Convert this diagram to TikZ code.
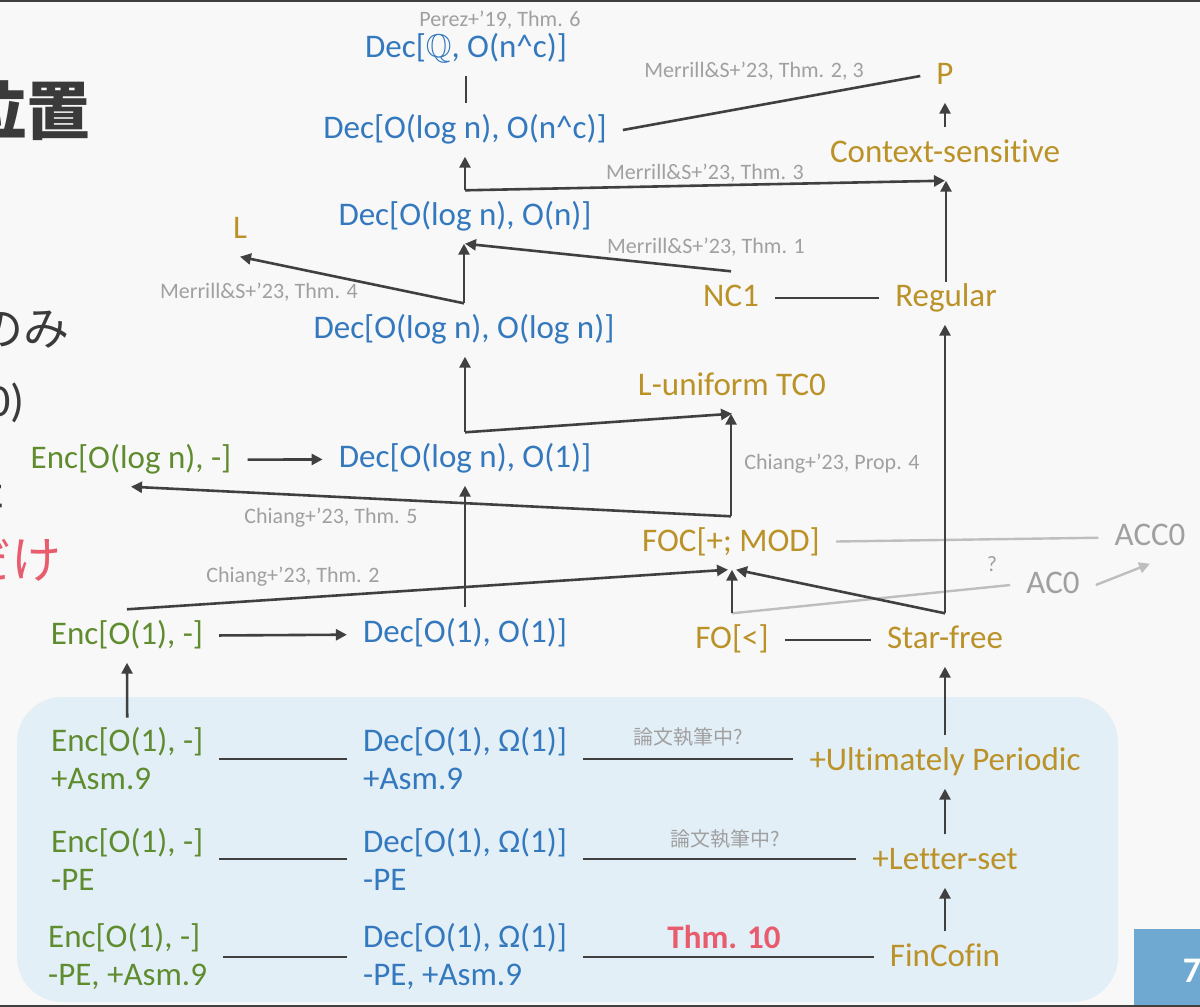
\documentclass[tikz,border=0pt]{standalone}
\usepackage{fontspec}
\setmainfont{Carlito}[Ligatures=NoCommon]
\newfontfamily\jp{Noto Sans CJK JP}
\usepackage{amssymb}
\usetikzlibrary{arrows.meta,calc}
\definecolor{bg}{RGB}{248,248,248}
\definecolor{boxblue}{RGB}{226,239,247}
\definecolor{numblue}{RGB}{111,169,210}
\definecolor{decblue}{RGB}{52,120,190}
\definecolor{encgreen}{RGB}{96,140,48}
\definecolor{gold}{RGB}{186,146,40}
\definecolor{labelgray}{RGB}{160,160,160}
\definecolor{darkc}{RGB}{64,64,64}
\definecolor{lightc}{RGB}{190,190,190}
\definecolor{redc}{RGB}{232,92,110}
\definecolor{titlec}{RGB}{58,58,58}
\begin{document}
\begin{tikzpicture}[x=1pt,y=-1pt,
  main/.style={inner xsep=16pt, inner ysep=10pt, text height=24.75pt, text depth=8.25pt, font=\fontsize{33}{40}\selectfont},
  dec/.style={main, text=decblue},
  enc/.style={main, text=encgreen},
  cls/.style={main, text=gold},
  lbl/.style={font=\fontsize{22}{26}\selectfont, text=labelgray, inner sep=0pt},
  two/.style={inner xsep=16pt, inner ysep=10pt, align=left, anchor=west, font=\fontsize{33}{38}\selectfont},
  arr/.style={draw=darkc, line width=2.6pt, -{Triangle[length=11pt,width=11pt]}},
  ln/.style={draw=darkc, line width=2.6pt},
  garr/.style={draw=lightc, line width=2.4pt, -{Triangle[length=11pt,width=11pt]}},
  gln/.style={draw=lightc, line width=2.4pt},
  frag/.style={anchor=east, inner sep=0pt}
]
\fill[bg] (0,0) rectangle (1200,1007);
\useasboundingbox (0,0) rectangle (1200,1007);
\clip (0,0) rectangle (1200,1007);
\draw[darkc, line width=1.5pt] (0,0.75) -- (1200,0.75);
\fill[boxblue, rounded corners=45pt] (17,697) rectangle (1118,1002);
\fill[numblue] (1134,929) rectangle (1200,1005);
\draw[darkc, line width=2pt] (0,1006) -- (1200,1006);
\node[font=\bfseries\fontsize{36}{40}\selectfont, text=white] (num) at (1192,971) {7};

% left fragments
\node[frag, font={\jp\bfseries\fontsize{64}{70}\selectfont}, text=titlec] (title) at (91,110) {位置};
\node[frag, font={\jp\fontsize{46}{50}\selectfont}, text=titlec] (nomi) at (70,330) {のみ};
\node[frag, font={\fontsize{46}{50}\selectfont}, text=titlec] (tc) at (25,403) {C0)};
\node[frag, font={\jp\fontsize{46}{50}\selectfont}, text=titlec] (ta) at (7,490) {た};
\node[frag, font={\jp\fontsize{50}{54}\selectfont}, text=redc] (dake) at (62,560) {だけ};

% nodes
\node[dec] (decQ) at (466,49) {Dec[$\mathbb{Q}$, O(n\textasciicircum c)]};
\node[lbl] (perez) at (500,20) {Perez+’19, Thm. 6};
\node[dec] (decnc) at (465,130) {Dec[O(log n), O(n\textasciicircum c)]};
\node[cls] (P) at (945,76) {P};
\node[cls] (cs) at (945,154) {Context-sensitive};
\node[dec] (decn) at (465,217) {Dec[O(log n), O(n)]};
\node[cls] (L) at (240,230) {L};
\node[cls] (nc1) at (731,298) {NC1};
\node[cls] (reg) at (946,298) {Regular};
\node[dec] (declog) at (464,330) {Dec[O(log n), O(log n)]};
\node[cls] (ltc) at (732,387) {L-uniform TC0};
\node[enc] (enclog) at (131,460) {Enc[O(log n), -]};
\node[dec] (decl1) at (465,459) {Dec[O(log n), O(1)]};
\node[cls] (foc) at (731,543) {FOC[+; MOD]};
\node[main, text=labelgray] (acc) at (1150,537) {ACC0};
\node[main, text=labelgray] (ac) at (1053,585) {AC0};
\node[enc] (enc1) at (127,636) {Enc[O(1), -]};
\node[dec] (dec11) at (465,634) {Dec[O(1), O(1)]};
\node[cls] (fo) at (732,640) {FO[<]};
\node[cls] (sf) at (945,640) {Star-free};

\node[two, text=encgreen] (e1) at (35,759) {Enc[O(1), -]\\+Asm.9};
\node[two, text=decblue] (d1) at (347,759) {Dec[O(1), Ω(1)]\\+Asm.9};
\node[cls] (up) at (945,762) {+Ultimately Periodic};
\node[two, text=encgreen] (e2) at (35,859) {Enc[O(1), -]\\-PE};
\node[two, text=decblue] (d2) at (347,859) {Dec[O(1), Ω(1)]\\-PE};
\node[cls] (ls) at (945,861) {+Letter-set};
\node[two, text=encgreen] (e3) at (32,957) {Enc[O(1), -]\\-PE, +Asm.9};
\node[two, text=decblue] (d3) at (347,957) {Dec[O(1), Ω(1)]\\-PE, +Asm.9};
\node[cls] (fc) at (945,958) {FinCofin};

% labels
\node[lbl] (m23) at (754,71) {Merrill\&S+’23, Thm. 2, 3};
\node[lbl] (m3) at (705,173) {Merrill\&S+’23, Thm. 3};
\node[lbl] (m1) at (706,247) {Merrill\&S+’23, Thm. 1};
\node[lbl] (m4) at (259,292) {Merrill\&S+’23, Thm. 4};
\node[lbl] (p4) at (832,464) {Chiang+’23, Prop. 4};
\node[lbl] (t5) at (331,518) {Chiang+’23, Thm. 5};
\node[lbl] (t2) at (293,577) {Chiang+’23, Thm. 2};
\node[lbl] (qm) at (992,564) {?};
\node[lbl, font={\jp\fontsize{20}{24}\selectfont}] (w1) at (688,737) {論文執筆中?};
\node[lbl, font={\jp\fontsize{20}{24}\selectfont}] (w2) at (725,839) {論文執筆中?};
\node[inner sep=0pt, font=\bfseries\fontsize{33}{38}\selectfont, text=redc] (t10) at (724,937) {Thm. 10};

% gray connectors
\draw[gln] (foc) -- (acc);
\draw[gln] (fo.north) -- (ac.west);
\draw[garr] (ac.east) -- (acc.south);

% dark connectors
\draw[ln] (decQ.south) -- (decQ.south |- decnc.north);
\draw[ln] (decnc.east) -- (P.west);
\draw[arr] (cs.north) -- (P.south);
\draw[arr] (decn.north) -- (decn.north |- decnc.south);
\draw[arr] (decn.north) -- (cs.south);
\draw[arr] ([yshift=-11pt]reg.north) -- (reg.north |- cs.south);
\draw[arr] (declog.north) -- (declog.north |- decn.south);
\draw[arr] (declog.north) -- (L.south);
\draw[arr] (nc1.north) -- (decn.south);
\draw[ln] (nc1) -- (reg);
\draw[arr] (sf.north) -- (sf.north |- reg.south);
\draw[arr] (decl1.north) -- (decl1.north |- declog.south);
\draw[arr] (decl1.north) -- (ltc.south);
\draw[arr] (foc.north) -- (foc.north |- ltc.south);
\draw[arr] (foc.north) -- (enclog.south);
\draw[arr] (enclog) -- (decl1);
\draw[arr] (dec11.north) -- (dec11.north |- decl1.south);
\draw[arr] (enc1.north) -- ([xshift=-3pt]foc.south);
\draw[arr] (fo.north) -- (fo.north |- foc.south);
\draw[arr] (sf.north) -- ([xshift=5pt]foc.south);
\draw[arr] (enc1) -- (dec11);
\draw[ln] (fo) -- (sf);
\draw[arr] (up.north) -- (sf.south);
\draw[arr] (ls.north) -- (up.south);
\draw[arr] (fc.north) -- (ls.south);
\draw[arr] (e1.north) -- (enc1.south);
\draw[ln] (e1.east) -- (d1.west);
\draw[ln] (e2.east) -- (d2.west);
\draw[ln] (e3.east) -- (d3.west);
\draw[ln] (d1.east) -- (d1.east -| up.west);
\draw[ln] (d2.east) -- (d2.east -| ls.west);
\draw[ln] (d3.east) -- (d3.east -| fc.west);
\end{tikzpicture}
\end{document}
